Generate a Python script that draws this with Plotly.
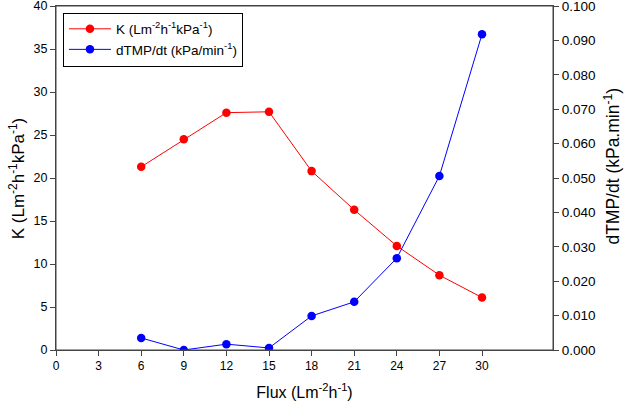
import plotly.graph_objects as go

flux = [6, 9, 12, 15, 18, 21, 24, 27, 30]
k_values = [21.3, 24.5, 27.6, 27.7, 20.8, 16.3, 12.1, 8.7, 6.1]
dtmp_values = [0.0035, 0.0000, 0.0017, 0.0006, 0.0099, 0.0140, 0.0267, 0.0506, 0.0918]
x_ticks = [0, 3, 6, 9, 12, 15, 18, 21, 24, 27, 30]
k_ticks = [0, 5, 10, 15, 20, 25, 30, 35, 40]
dtmp_ticks = [0.0, 0.01, 0.02, 0.03, 0.04, 0.05, 0.06, 0.07, 0.08, 0.09, 0.1]

axis_color = "#444444"
font_family = "Arial, Liberation Sans, sans-serif"

fig = go.Figure()
fig.add_trace(go.Scatter(
    x=flux, y=k_values, mode="lines+markers",
    name="K (Lm<sup>-2</sup>h<sup>-1</sup>kPa<sup>-1</sup>)",
    line=dict(color="#ff0000", width=1),
    marker=dict(color="#ff0000", size=8.5),
))
fig.add_trace(go.Scatter(
    x=flux, y=dtmp_values, mode="lines+markers",
    name="dTMP/dt (kPa/min<sup>-1</sup>)",
    line=dict(color="#0000ff", width=1),
    marker=dict(color="#0000ff", size=8.5),
    yaxis="y2",
))

fig.update_layout(
    width=624, height=413,
    margin=dict(l=56, r=71, t=6, b=63, autoexpand=False),
    paper_bgcolor="white", plot_bgcolor="white",
    font=dict(family=font_family, size=12, color="black"),
    showlegend=True,
    legend=dict(
        x=0.014, y=0.981, xanchor="left", yanchor="top",
        bordercolor="black", borderwidth=1, bgcolor="white",
        font=dict(size=13.5), tracegroupgap=0, itemwidth=42,
    ),
    xaxis=dict(
        range=[0, 35], tickmode="array", tickvals=x_ticks,
        ticks="outside", ticklen=5, tickcolor=axis_color,
        showline=True, linecolor=axis_color, linewidth=1, mirror=True,
        showgrid=False, zeroline=False, tickfont=dict(size=12),
        ticklabeloverflow="allow", automargin=False,
        title=dict(text="Flux (Lm<sup>-2</sup>h<sup>-1</sup>)", font=dict(size=16), standoff=14),
    ),
    yaxis=dict(
        range=[0, 40.001], tickmode="array", tickvals=k_ticks,
        ticks="outside", ticklen=5, tickcolor=axis_color,
        showline=True, linecolor=axis_color, linewidth=1,
        showgrid=False, zeroline=False, tickfont=dict(size=12.5),
        ticklabeloverflow="allow", automargin=False,
    ),
    yaxis2=dict(
        range=[0, 0.100002], tickmode="array", tickvals=dtmp_ticks, tickformat=".3f",
        overlaying="y", side="right",
        ticks="outside", ticklen=5, tickcolor=axis_color,
        showline=True, linecolor=axis_color, linewidth=1,
        showgrid=False, zeroline=False, tickfont=dict(size=13.5),
        ticklabeloverflow="allow", automargin=False,
    ),
    annotations=[
        dict(text="K (Lm<sup>-2</sup>h<sup>-1</sup>kPa<sup>-1</sup>)",
             xref="paper", yref="paper", x=-0.078, y=0.5,
             xanchor="center", yanchor="middle", textangle=-90,
             showarrow=False, font=dict(size=17)),
        dict(text="dTMP/dt (kPa.min<sup>-1</sup>)",
             xref="paper", yref="paper", x=1.118, y=0.535,
             xanchor="center", yanchor="middle", textangle=-90,
             showarrow=False, font=dict(size=17.5)),
    ],
    shapes=[
        dict(type="rect", xref="paper", yref="paper", x0=0, y0=0, x1=1, y1=1,
             line=dict(color=axis_color, width=1), layer="above"),
    ],
)

fig.write_html("out.html")
